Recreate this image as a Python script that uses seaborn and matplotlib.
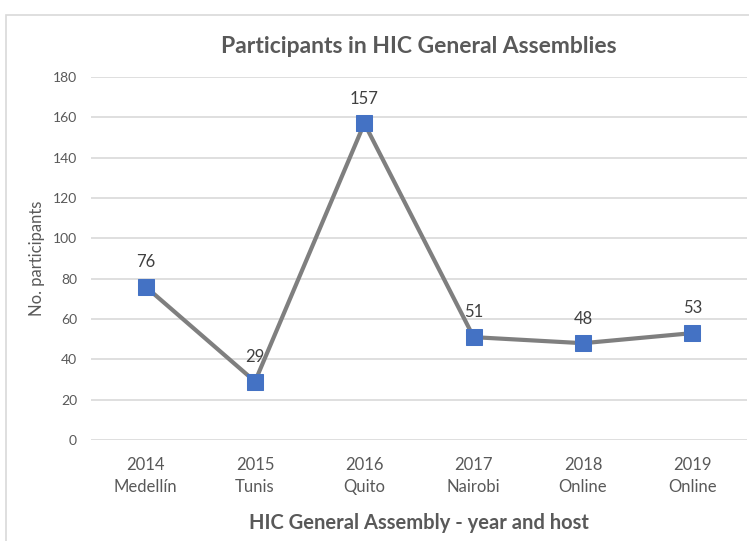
import numpy as np
import pandas as pd
import seaborn as sns
import matplotlib.pyplot as plt
from matplotlib.patches import Rectangle

years = ["2014", "2015", "2016", "2017", "2018", "2019"]
hosts = ["Medellín", "Tunis", "Quito", "Nairobi", "Online", "Online"]
participants = [76, 29, 157, 51, 48, 53]
yticks = [0, 20, 40, 60, 80, 100, 120, 140, 160, 180]

TEXT = "#595959"
GRID = "#D9D9D9"
LINE = "#7F7F7F"
BLUE = "#4472C4"


def main():
    sns.set_style("white")
    plt.rcParams['font.family'] = ['Lato', 'DejaVu Sans']

    labels = [f"{y}\n{h}" for y, h in zip(years, hosts)]
    df = pd.DataFrame({"assembly": labels, "participants": participants})

    fig = plt.figure(figsize=(7.49, 5.41), dpi=100)
    ax = fig.add_axes([91 / 749, 1 - 440 / 541, 656 / 749, 363 / 541])

    # light chart border like the office export
    fig.patches.append(Rectangle((6 / 749, -0.1), 1.2, 1 - 15 / 541 + 0.1,
                                 transform=fig.transFigure, fill=False,
                                 edgecolor=GRID, linewidth=1.2))

    sns.lineplot(data=df, x="assembly", y="participants", ax=ax, sort=False,
                 color=LINE, linewidth=3, marker="s", markersize=11.5,
                 markerfacecolor=BLUE, markeredgecolor=BLUE, zorder=3)

    for lab, val in zip(labels, participants):
        ax.annotate(str(val), (lab, val), xytext=(0, 12), textcoords="offset points",
                    ha="center", va="bottom", fontsize=12, color="#404040")

    ax.set_xlim(-0.5, len(labels) - 0.5)
    ax.set_ylim(0, 180)
    ax.set_yticks(yticks)
    ax.yaxis.grid(True, color=GRID, linewidth=1.2)
    ax.set_axisbelow(True)
    for s in ax.spines.values():
        s.set_visible(False)
    ax.tick_params(axis="y", length=0, pad=10, labelsize=10, labelcolor=TEXT)
    ax.tick_params(axis="x", length=0, pad=12, labelsize=12, labelcolor=TEXT)
    for t in ax.get_xticklabels():
        t.set_linespacing(1.45)

    ax.set_ylabel("No. participants", fontsize=12, color=TEXT, labelpad=6)
    ax.set_xlabel("HIC General Assembly - year and host", fontsize=14.5,
                  fontweight="bold", color=TEXT, labelpad=13)
    ax.set_title("Participants in HIC General Assemblies", fontsize=16.5,
                 fontweight="bold", color=TEXT, pad=17)

    fig.savefig("out.png", dpi=100)


if __name__ == "__main__":
    main()
